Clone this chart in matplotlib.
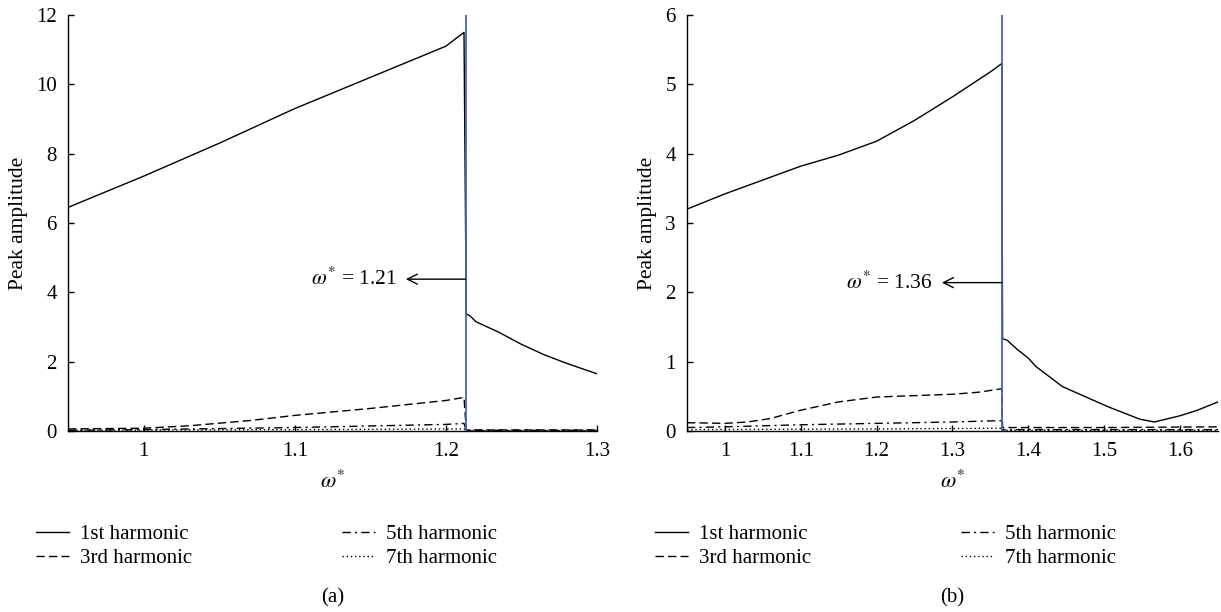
import matplotlib
matplotlib.use("Agg")
import matplotlib.pyplot as plt
from matplotlib.lines import Line2D

plt.rcParams['font.family'] = ['Liberation Serif', 'DejaVu Serif']
plt.rcParams['mathtext.fontset'] = 'stix'

# ---------------- data: panel (a) ----------------
a_h1_x = [0.95, 1.0, 1.05, 1.1, 1.15, 1.2, 1.212, 1.2135, 1.216, 1.22, 1.235, 1.25, 1.265, 1.28, 1.3]
a_h1_y = [6.45, 7.35, 8.3, 9.3, 10.2, 11.1, 11.5, 3.38, 3.32, 3.15, 2.85, 2.5, 2.2, 1.95, 1.65]
a_h3_x = [0.95, 1.0, 1.03, 1.07, 1.1, 1.15, 1.2, 1.212, 1.2135, 1.25, 1.3]
a_h3_y = [0.06, 0.08, 0.15, 0.30, 0.45, 0.65, 0.88, 0.97, 0.03, 0.03, 0.03]
a_h5_x = [0.95, 1.0, 1.1, 1.2, 1.212, 1.2135, 1.3]
a_h5_y = [0.02, 0.04, 0.10, 0.19, 0.22, 0.02, 0.02]
a_h7_x = [0.95, 1.1, 1.212, 1.2135, 1.3]
a_h7_y = [0.02, 0.04, 0.06, 0.01, 0.01]
a_omega = 1.213

# ---------------- data: panel (b) ----------------
b_h1_x = [0.95, 1.0, 1.05, 1.1, 1.15, 1.2, 1.25, 1.3, 1.35, 1.365, 1.366, 1.372, 1.385, 1.40,
          1.41, 1.445, 1.505, 1.547, 1.566, 1.60, 1.623, 1.65]
b_h1_y = [3.2, 3.42, 3.62, 3.82, 3.98, 4.18, 4.48, 4.82, 5.18, 5.3, 1.33, 1.31, 1.18, 1.05,
          0.93, 0.64, 0.35, 0.17, 0.13, 0.22, 0.30, 0.42]
b_h3_x = [0.95, 1.0, 1.03, 1.06, 1.1, 1.15, 1.2, 1.25, 1.3, 1.335, 1.365, 1.366, 1.5, 1.65]
b_h3_y = [0.12, 0.11, 0.13, 0.18, 0.30, 0.42, 0.49, 0.51, 0.53, 0.56, 0.61, 0.05, 0.05, 0.06]
b_h5_x = [0.95, 1.0, 1.1, 1.2, 1.3, 1.365, 1.366, 1.65]
b_h5_y = [0.05, 0.06, 0.09, 0.11, 0.13, 0.15, 0.02, 0.02]
b_h7_x = [0.95, 1.2, 1.365, 1.366, 1.65]
b_h7_y = [0.02, 0.03, 0.04, 0.01, 0.01]
b_omega = 1.365

labels = ['1st harmonic', '3rd harmonic', '5th harmonic', '7th harmonic']

W, H = 1221, 612
fig = plt.figure(figsize=(W / 100, H / 100), dpi=100)

blue = '#4a62a8'
styles = [dict(ls='-'), dict(ls=(0, (6, 3))), dict(ls=(0, (6, 3, 1.5, 3))), dict(ls=(0, (1, 2)))]


def setup(ax):
    for s in ['top', 'right']:
        ax.spines[s].set_visible(False)
    for s in ['left', 'bottom']:
        ax.spines[s].set_linewidth(1.0)
    ax.tick_params(direction='in', length=4, width=1, labelsize=15, pad=8)


def panel(rect, xs, ys, omega, xlim, ylim, yticks, xticks, ann_xy, ann_text_xy, ann_text, tag):
    ax = fig.add_axes(rect)
    setup(ax)
    for x, y, st in zip(xs, ys, styles):
        ax.plot(x, y, color='black', lw=1.0, **st)
    ax.axvline(omega, color=blue, lw=1.3)
    ax.set_xlim(*xlim)
    ax.set_ylim(*ylim)
    ax.set_yticks(yticks)
    ax.set_xticks(xticks)
    ax.set_xticklabels([('%g' % t) for t in xticks])
    ax.set_ylabel('Peak amplitude', fontsize=15.5, labelpad=6)
    ax.set_xlabel(r'$\omega^{*}$', fontsize=16, labelpad=7)
    ax.annotate('', xy=ann_text_xy, xytext=ann_xy,
                arrowprops=dict(arrowstyle='->', color='black', lw=1.0,
                                shrinkA=0, shrinkB=0, mutation_scale=18))
    ax.text(ann_text_xy[0] - 0.006 * (xlim[1] - xlim[0]) / 0.35, ann_text_xy[1], ann_text,
            ha='right', va='center', fontsize=15.5)
    handles = [Line2D([], [], color='black', lw=1.0, **st) for st in styles]
    ax.legend(handles, labels,
              ncol=2, loc='upper left', bbox_to_anchor=(-32 / 529, -0.225),
              frameon=False, fontsize=15, handlelength=1.6, handletextpad=0.5,
              columnspacing=7.2, labelspacing=0.2, borderpad=0, borderaxespad=0)
    ax.text(0.5, -0.40, tag, transform=ax.transAxes, ha='center', va='center', fontsize=15)
    return ax


axA = panel([68 / W, 1 - 431 / H, 529 / W, 416 / H],
            [a_h1_x, a_h3_x, a_h5_x, a_h7_x], [a_h1_y, a_h3_y, a_h5_y, a_h7_y],
            a_omega, (0.95, 1.3), (0, 12), [0, 2, 4, 6, 8, 10, 12], [1.0, 1.1, 1.2, 1.3],
            (a_omega, 4.38), (1.1735, 4.38), r'$\omega^{*}$ = 1.21', '(a)')
axB = panel([687 / W, 1 - 431 / H, 531 / W, 416 / H],
            [b_h1_x, b_h3_x, b_h5_x, b_h7_x], [b_h1_y, b_h3_y, b_h5_y, b_h7_y],
            b_omega, (0.95, 1.65), (0, 6), [0, 1, 2, 3, 4, 5, 6], [1.0, 1.1, 1.2, 1.3, 1.4, 1.5, 1.6],
            (b_omega, 2.14), (1.286, 2.14), r'$\omega^{*}$ = 1.36', '(b)')

fig.savefig('out.png', dpi=100)
